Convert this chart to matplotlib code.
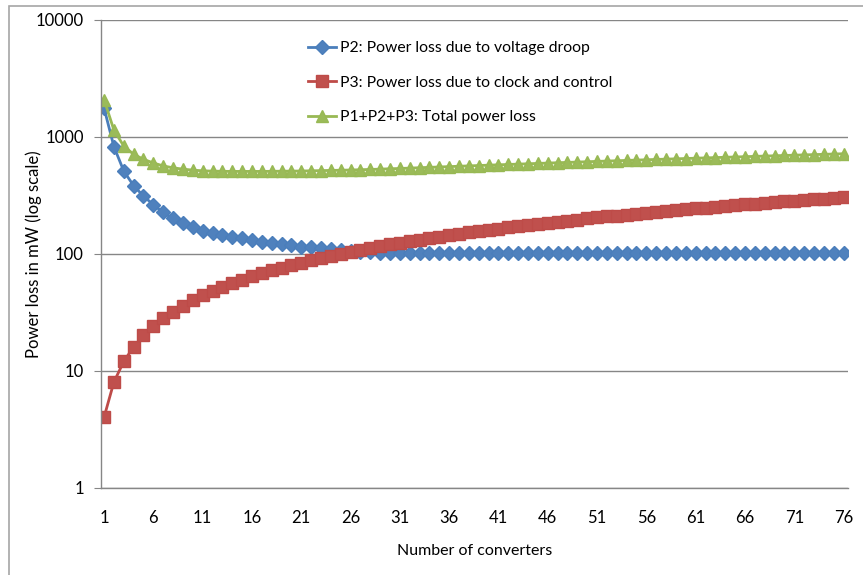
import matplotlib
matplotlib.use("Agg")
import matplotlib.pyplot as plt
from matplotlib.patches import Rectangle
from matplotlib.ticker import FixedLocator, FixedFormatter, NullLocator

plt.rcParams['font.family'] = ['Lato', 'DejaVu Sans']

# Number of converters
converters = list(range(1, 77))

# P2: power loss due to voltage droop (mW)
p2_droop = [1760, 822, 509, 381, 311, 262, 225, 200, 182, 168,
            157, 150, 144, 139, 135, 131, 127, 124, 121, 118,
            115, 113, 111, 109, 107, 105, 104, 103, 102, 102,
            101, 101, 101, 101, 101, 101, 101, 101, 101, 101,
            101, 101, 101, 101, 101, 101, 101, 101, 101, 101,
            101, 101, 101, 101, 101, 101, 101, 101, 101, 101,
            101, 101, 101, 101, 101, 101, 101, 101, 101, 101,
            101, 101, 101, 101, 101, 101]

# P3: power loss due to clock and control (mW)
p3_clock = [4, 8, 12, 16, 20, 24, 28, 32, 36, 40,
            44, 48, 52, 56, 60, 64, 68, 72, 76, 80,
            84, 88, 92, 96, 100, 104, 108, 112, 116, 120,
            124, 128, 132, 136, 140, 144, 148, 152, 156, 160,
            164, 168, 172, 176, 180, 184, 188, 192, 196, 200,
            204, 208, 212, 216, 220, 224, 228, 232, 236, 240,
            244, 248, 252, 256, 260, 264, 268, 272, 276, 280,
            284, 288, 292, 296, 300, 304]

# P1+P2+P3: total power loss (mW)
total_loss = [2074, 1140, 831, 707, 641, 596, 563, 542, 528, 518,
              511, 508, 506, 505, 505, 505, 505, 506, 507, 508,
              509, 511, 513, 515, 517, 519, 522, 525, 528, 532,
              535, 539, 543, 547, 551, 555, 559, 563, 567, 571,
              575, 579, 583, 587, 591, 595, 599, 603, 607, 611,
              615, 619, 623, 627, 631, 635, 639, 643, 647, 651,
              655, 659, 663, 667, 671, 675, 679, 683, 687, 691,
              695, 699, 703, 707, 711, 715]

x_ticks = [1, 6, 11, 16, 21, 26, 31, 36, 41, 46, 51, 56, 61, 66, 71, 76]
y_ticks = [1, 10, 100, 1000, 10000]
y_tick_labels = ['1', '10', '100', '1000', '10000']

series_labels = ['P2: Power loss due to voltage droop',
                 'P3: Power loss due to clock and control',
                 'P1+P2+P3: Total power loss']

fig = plt.figure(figsize=(8.63, 5.75), dpi=100)
ax = fig.add_axes([100.5 / 863, 1 - 487.7 / 575, (848 - 100.5) / 863, (487.7 - 19.7) / 575])

# outer chart-area frame
fig.patches.append(Rectangle((9 / 863, -0.05), 1.2, 1.05 - 5.5 / 575,
                             transform=fig.transFigure, fill=False,
                             edgecolor='#a6a6a6', linewidth=1.2))

ax.plot(converters, p2_droop, color='#4A7EBB', linewidth=2.0,
        marker='D', markersize=7.5, markerfacecolor='#4F81BD',
        markeredgecolor='#4A7EBB', label=series_labels[0])
ax.plot(converters, p3_clock, color='#BE4B48', linewidth=2.0,
        marker='s', markersize=8, markerfacecolor='#C0504D',
        markeredgecolor='#BE4B48', label=series_labels[1])
ax.plot(converters, total_loss, color='#98B954', linewidth=2.0,
        marker='^', markersize=8.5, markerfacecolor='#9BBB59',
        markeredgecolor='#98B954', label=series_labels[2])

ax.set_yscale('log')
ax.set_ylim(1, 10000)
ax.set_xlim(0.64, 76.45)

ax.yaxis.set_major_locator(FixedLocator(y_ticks))
ax.yaxis.set_major_formatter(FixedFormatter(y_tick_labels))
ax.yaxis.set_minor_locator(NullLocator())
ax.set_xticks(x_ticks)
ax.set_xticklabels([str(t) for t in x_ticks])

ax.grid(axis='y', color='#868686', linewidth=1.0)
ax.set_axisbelow(True)
for side in ['top', 'right']:
    ax.spines[side].set_visible(False)
for side in ['left', 'bottom']:
    ax.spines[side].set_color('#868686')
    ax.spines[side].set_linewidth(1.0)

ax.tick_params(axis='y', which='major', length=5, color='#868686',
               labelsize=12, pad=7)
ax.tick_params(axis='x', which='major', length=0, labelsize=12, pad=16)

ax.set_xlabel('Number of converters', fontsize=11.5, labelpad=13)
ax.set_ylabel('Power loss in mW (log scale)', fontsize=12)
ax.yaxis.set_label_coords(-0.078, 0.5)

leg = ax.legend(loc='upper left', bbox_to_anchor=(0.2686, 0.967), frameon=False,
                fontsize=11.3, handlelength=1.8, handletextpad=0.25,
                labelspacing=1.3, borderaxespad=0)

fig.savefig('out.png', dpi=100)
